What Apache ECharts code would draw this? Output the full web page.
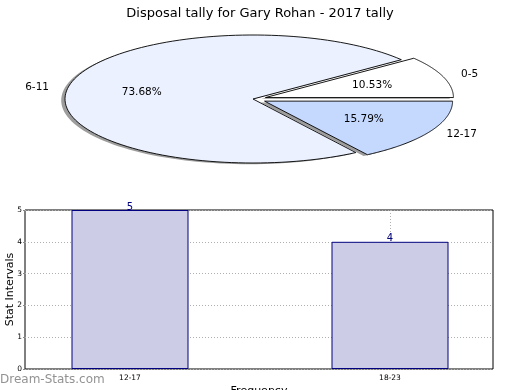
<!DOCTYPE html>
<html>
<head>
<meta charset="utf-8">
<script src="https://cdn.jsdelivr.net/npm/echarts@6/dist/echarts.min.js"></script>
<style>
html,body{margin:0;padding:0;background:#fff;}
#c{width:520px;height:390px;}
</style>
</head>
<body>
<div id="c"></div>
<script>
// ---- data ----
const titleText = 'Disposal tally for Gary Rohan - 2017 tally';
const pieCategories = ['0-5', '6-11', '12-17'];
const pieValues = [2, 14, 3];
const barCategories = ['12-17', '18-23'];
const barValues = [5, 4];

// ---- styles / layout ----
const FONT = 'DejaVu Sans';
const pieColors = ['#ffffff', '#ebf1fe', '#c5d8fe'];
const pieExplode = [0.07, 0, 0.07];
const pieLayout = { cx: 253, cy: 99, rx: 188, ry: 64, sdx: -3.8, sdy: 1.3 };

const pieTotal = pieValues.reduce((a, b) => a + b, 0);

function renderSlice(params, api) {
  const i = params.dataIndex;
  const v = api.value(0);
  let before = 0;
  for (let k = 0; k < i; k++) before += pieValues[k];
  const start = before / pieTotal * Math.PI * 2;
  const end = start + v / pieTotal * Math.PI * 2;
  const mid = (start + end) / 2;
  const L = pieLayout;
  const e = pieExplode[i];
  const cx = L.cx + e * Math.cos(mid) * L.rx;
  const cy = L.cy - e * Math.sin(mid) * L.ry;
  const pts = [[cx, cy]];
  const N = 120;
  for (let k = 0; k <= N; k++) {
    const t = start + (end - start) * k / N;
    pts.push([cx + L.rx * Math.cos(t), cy - L.ry * Math.sin(t)]);
  }
  const shadowPts = pts.map(p => [p[0] + L.sdx, p[1] + L.sdy]);
  const lx = cx + 1.1 * L.rx * Math.cos(mid);
  const ly = cy - 1.1 * L.ry * Math.sin(mid);
  const px = cx + 0.6 * L.rx * Math.cos(mid);
  const py = cy - 0.6 * L.ry * Math.sin(mid);
  const pct = (v / pieTotal * 100).toFixed(2) + '%';
  return {
    type: 'group',
    children: [
      { type: 'polygon', z2: 1, shape: { points: shadowPts },
        style: { fill: 'rgba(60,60,60,0.5)', stroke: null } },
      { type: 'polygon', z2: 10, shape: { points: pts },
        style: { fill: pieColors[i], stroke: '#000', lineWidth: 0.9 } },
      { type: 'text', z2: 20, x: lx, y: ly,
        style: { text: pieCategories[i], fill: '#000', font: '10.5px ' + FONT,
                 align: Math.cos(mid) >= 0 ? 'left' : 'right', verticalAlign: 'middle' } },
      { type: 'text', z2: 20, x: px, y: py,
        style: { text: pct, fill: '#000', font: '10.5px ' + FONT,
                 align: 'center', verticalAlign: 'middle' } }
    ]
  };
}

const chart = echarts.init(document.getElementById('c'), null, { renderer: 'canvas' });

const dotted = { color: '#b0b0b0', type: [1, 2], width: 1 };

const option = {
  backgroundColor: '#ffffff',
  animation: false,
  textStyle: { fontFamily: FONT },
  title: {
    text: titleText, left: 'center', top: 2,
    textStyle: { fontFamily: FONT, fontSize: 13, fontWeight: 'normal', color: '#000' }
  },
  graphic: [{
    type: 'text', left: 0, top: 374, z: 100,
    style: { text: 'Dream-Stats.com', fill: 'rgba(110,110,110,0.75)', font: '12px ' + FONT }
  }],
  grid: [
    { left: 25, right: 27, top: 210, bottom: 21, show: true, borderColor: '#000', borderWidth: 1,
      backgroundColor: 'transparent', outerBoundsMode: 'none', containLabel: false },
    { left: 130, right: 130, top: 210, bottom: 21, show: false, outerBoundsMode: 'none', containLabel: false }
  ],
  xAxis: [
    { type: 'value', gridIndex: 0, min: 0, max: 1,
      axisLine: { show: false }, axisTick: { show: false }, axisLabel: { show: false }, splitLine: { show: false },
      name: 'Frequency', nameLocation: 'middle', nameGap: 17, nameMoveOverlap: false,
      nameTextStyle: { fontFamily: FONT, fontSize: 11, color: '#000' } },
    { type: 'category', gridIndex: 1, data: barCategories, boundaryGap: false,
      axisLine: { show: false }, axisTick: { show: false },
      axisLabel: { fontFamily: FONT, fontSize: 7.5, color: '#000', margin: 5 },
      splitLine: { show: true, lineStyle: dotted } }
  ],
  yAxis: [
    { type: 'value', gridIndex: 0, min: 0, max: 5, interval: 1,
      axisLine: { show: false },
      axisTick: { show: true, length: 2, lineStyle: { color: '#888' } },
      axisLabel: { fontFamily: FONT, fontSize: 7.5, color: '#000', margin: 3 },
      splitLine: { show: true, lineStyle: dotted },
      name: 'Stat Intervals', nameLocation: 'middle', nameRotate: 90, nameGap: 9, nameMoveOverlap: false,
      nameTextStyle: { fontFamily: FONT, fontSize: 11, color: '#000' } },
    { type: 'value', gridIndex: 1, min: 0, max: 5, interval: 1, show: false }
  ],
  series: [
    {
      type: 'custom', coordinateSystem: 'none', renderItem: renderSlice,
      data: pieValues.map(v => [v]), silent: true
    },
    {
      type: 'bar', xAxisIndex: 1, yAxisIndex: 1, data: barValues, barWidth: 117, clip: false,
      itemStyle: { color: '#cccce6', borderColor: '#000080', borderWidth: 1 },
      label: { show: true, position: 'top', distance: -2, color: '#000080', fontFamily: FONT, fontSize: 10 },
      z: 1
    }
  ]
};
chart.setOption(option);
</script>
</body>
</html>
